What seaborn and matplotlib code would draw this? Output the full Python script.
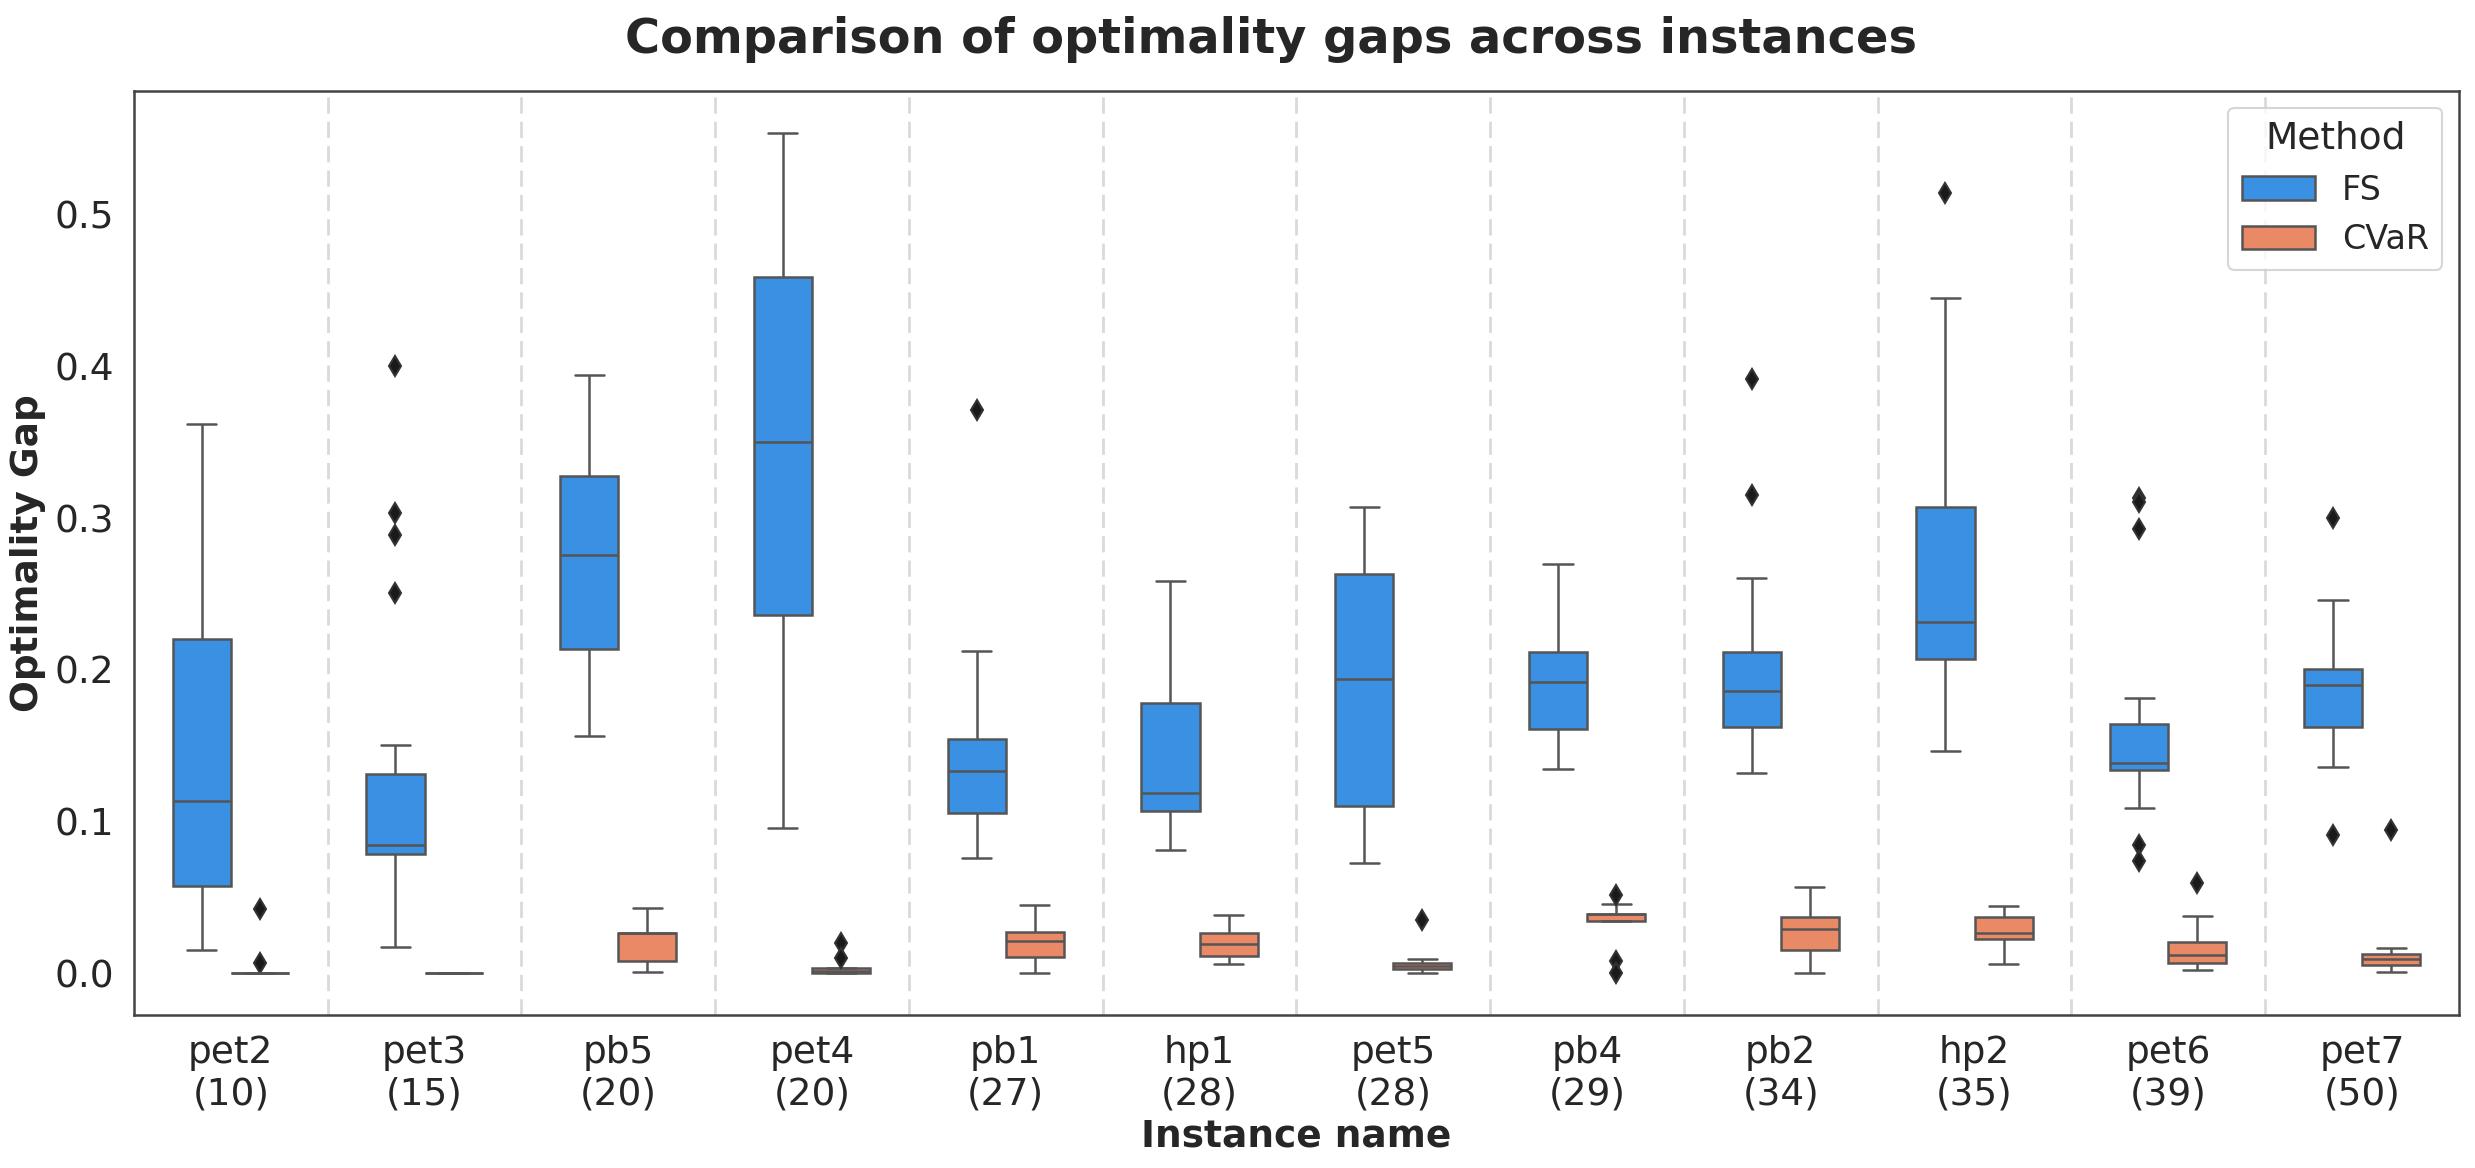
import numpy as np
import pandas as pd
import matplotlib
matplotlib.use("Agg")
import matplotlib.pyplot as plt
import seaborn as sns

# ---------------- data ----------------
instances = ["pet2", "pet3", "pb5", "pet4", "pb1", "hp1", "pet5", "pb4", "pb2", "hp2", "pet6", "pet7"]
sizes = [10, 15, 20, 20, 27, 28, 28, 29, 34, 35, 39, 50]
methods = ["FS", "CVaR"]

# FS summary statistics
fs_lo  = [0.0159, 0.0178, 0.1568, 0.0960, 0.0763, 0.0814, 0.0727, 0.1347, 0.1320, 0.1469, 0.1090, 0.1363]
fs_q1  = [0.0577, 0.0786, 0.2137, 0.2361, 0.1055, 0.1071, 0.1102, 0.1611, 0.1623, 0.2070, 0.1339, 0.1627]
fs_med = [0.1134, 0.0849, 0.2756, 0.3499, 0.1335, 0.1189, 0.1939, 0.1920, 0.1860, 0.2314, 0.1386, 0.1900]
fs_q3  = [0.2207, 0.1312, 0.3277, 0.4585, 0.1544, 0.1785, 0.2634, 0.2117, 0.2121, 0.3072, 0.1643, 0.2006]
fs_hi  = [0.3620, 0.1505, 0.3944, 0.5535, 0.2125, 0.2587, 0.3072, 0.2697, 0.2606, 0.4446, 0.1817, 0.2460]
fs_out = [[], [0.400, 0.3036, 0.2887, 0.2508], [], [], [0.3712], [], [], [],
          [0.3913, 0.3151], [0.5137], [0.3135, 0.3104, 0.2926, 0.0846, 0.0739], [0.3001, 0.0913]]

# CVaR summary statistics
cv_lo  = [0.0005, 0.0005, 0.0009, 0.0005, 0.0005, 0.0066, 0.0005, 0.0344, 0.0005, 0.0064, 0.0024, 0.0013]
cv_q1  = [0.0005, 0.0005, 0.0086, 0.0005, 0.0107, 0.0114, 0.0032, 0.0344, 0.0159, 0.0230, 0.0072, 0.0060]
cv_med = [0.0005, 0.0005, 0.0268, 0.0020, 0.0214, 0.0198, 0.0050, 0.0395, 0.0293, 0.0268, 0.0123, 0.0095]
cv_q3  = [0.0005, 0.0005, 0.0268, 0.0036, 0.0273, 0.0268, 0.0072, 0.0395, 0.0376, 0.0371, 0.0210, 0.0131]
cv_hi  = [0.0005, 0.0005, 0.0433, 0.0036, 0.0451, 0.0388, 0.0099, 0.0456, 0.0573, 0.0443, 0.0380, 0.0171]
cv_out = [[0.0427, 0.0072], [], [], [0.0202, 0.0103], [], [], [0.0352], [0.0520, 0.0081, 0.0005],
          [], [], [0.0597], [0.0948]]


def sample_from_stats(lo, q1, med, q3, hi, outliers):
    """Build a sample whose boxplot statistics equal the given ones."""
    low = [v for v in outliers if v < lo]
    high = [v for v in outliers if v > hi]
    a = 20 + len(high)
    b = 20 + len(low)
    return low + [lo] + [q1] * a + [med] + [q3] * b + [hi] + high


rows = []
stats = {
    "FS": (fs_lo, fs_q1, fs_med, fs_q3, fs_hi, fs_out),
    "CVaR": (cv_lo, cv_q1, cv_med, cv_q3, cv_hi, cv_out),
}
labels = [f"{n}\n({s})" for n, s in zip(instances, sizes)]
for m in methods:
    lo, q1, med, q3, hi, out = stats[m]
    for i, lab in enumerate(labels):
        for v in sample_from_stats(lo[i], q1[i], med[i], q3[i], hi[i], out[i]):
            rows.append({"Instance": lab, "Method": m, "Gap": v})
df = pd.DataFrame(rows)

# ---------------- plot ----------------
sns.set_theme(style="white")
plt.rcParams["font.family"] = ["DejaVu Sans"]

fig, ax = plt.subplots(figsize=(16.5, 1168 / 150), dpi=150)
fig.subplots_adjust(left=0.0541, right=0.9935, top=0.9221, bottom=0.131)

sns.boxplot(
    data=df, x="Instance", y="Gap", hue="Method", order=labels, hue_order=methods,
    palette={"FS": "dodgerblue", "CVaR": "coral"}, saturation=0.75,
    width=0.6, gap=0, linewidth=1.2, linecolor="#555555",
    flierprops=dict(marker="d", markerfacecolor="k", markeredgecolor="#333333", markersize=7),
    ax=ax,
)

for k in range(len(labels) - 1):
    ax.axvline(k + 0.5, color="#d9d9d9", linestyle=(0, (6, 3)), linewidth=1.3, zorder=0)

ax.set_xlim(-0.5, len(labels) - 0.5)
ax.set_title("Comparison of optimality gaps across instances", fontsize=23, fontweight="bold",
             pad=18, x=0.489)
ax.set_xlabel("Instance name", fontsize=18, fontweight="bold", labelpad=3)
ax.set_ylabel("Optimality Gap", fontsize=18, fontweight="bold")
ax.tick_params(axis="both", labelsize=18)
for s in ax.spines.values():
    s.set_color("#444444")
    s.set_linewidth(1.2)

handles, labs = ax.get_legend_handles_labels()
ax.legend(handles, labs, title="Method", loc="upper right", fontsize=16, title_fontsize=18,
          handlelength=2.2, frameon=True)

fig.savefig("out.png", dpi=150)
